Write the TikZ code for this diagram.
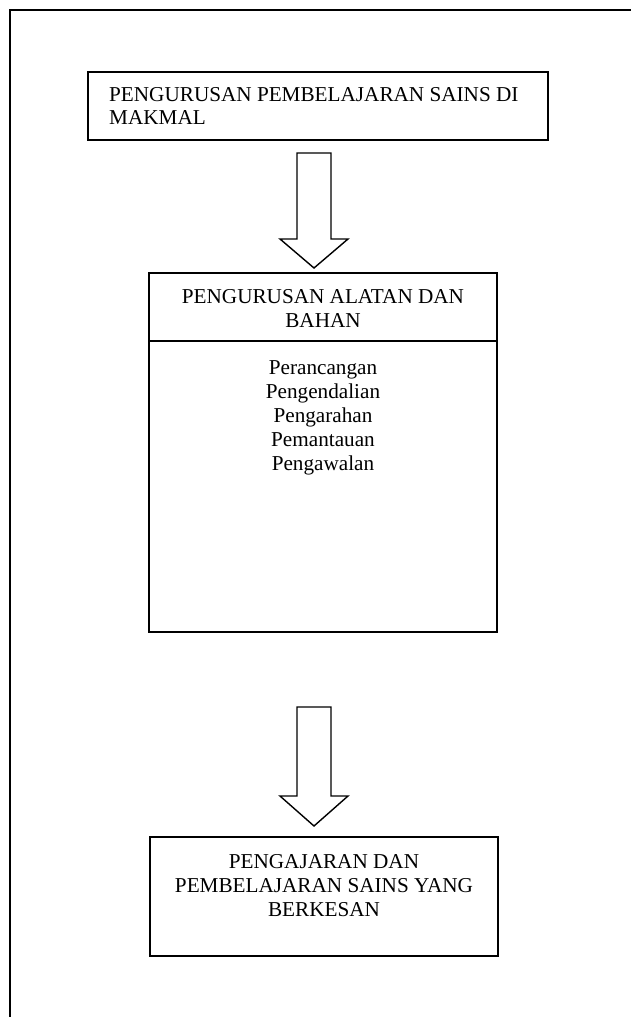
\documentclass[tikz,border=0pt]{standalone}
\usepackage{fontspec}
\setmainfont{Liberation Serif}
\begin{document}
\begin{tikzpicture}[x=1pt,y=-1pt,
  txt/.style={font=\fontsize{21.2}{24.2}\selectfont, inner sep=0pt},
  box/.style={draw, line width=1.7pt, inner sep=0pt},
  blockarrow/.style={draw, line width=1.4pt, line join=miter}]
\useasboundingbox (0,0) rectangle (631,1017);
% page frame
\draw[line width=1.4pt] (631,10) -- (10,10) -- (10,1017);
% box 1
\node[box, minimum width=460pt, minimum height=68pt] (b1) at (318,106) {};
\node[txt, anchor=north west, align=left, font=\fontsize{21.2}{22.6}\selectfont] (t1) at (109,87.5)
  {PENGURUSAN PEMBELAJARAN SAINS DI\\MAKMAL};
% arrow 1
\draw[blockarrow] (297,153) -- (331,153) -- (331,239) -- (348,239) -- (314,268)
  -- (280,239) -- (297,239) -- cycle;
% box 2
\node[box, minimum width=348pt, minimum height=359pt] (b2) at (323,452.5) {};
\draw[line width=1.7pt] (b2.west |- 0,341) -- (b2.east |- 0,341);
\node[txt, anchor=north, align=center] (t2) at (323,289) {PENGURUSAN ALATAN DAN\\BAHAN};
\node[txt, anchor=north, align=center] (t2b) at (323,360)
  {Perancangan\\Pengendalian\\Pengarahan\\Pemantauan\\Pengawalan};
% arrow 2
\draw[blockarrow] (297,707) -- (331,707) -- (331,796) -- (348,796) -- (314,826)
  -- (280,796) -- (297,796) -- cycle;
% box 3
\node[box, minimum width=348pt, minimum height=119pt] (b3) at (324,896.5) {};
\node[txt, anchor=north, align=center] (t3) at (324,854)
  {PENGAJARAN DAN\\PEMBELAJARAN SAINS YANG\\BERKESAN};
\end{tikzpicture}
\end{document}
